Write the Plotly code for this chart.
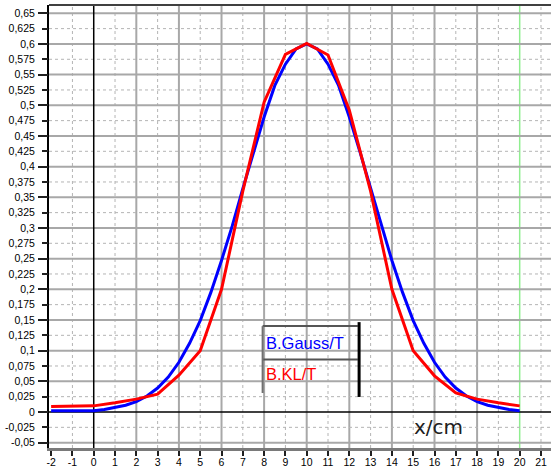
import plotly.graph_objects as go

# ---- data ----
gauss_x = [-2, -1, 0, 0.5, 1, 1.5, 2, 2.5, 3, 3.5, 4, 4.5, 5, 5.5, 6, 6.5, 7, 7.5, 8, 8.5, 9, 9.5, 10,
           10.5, 11, 11.5, 12, 12.5, 13, 13.5, 14, 14.5, 15, 15.5, 16, 16.5, 17, 17.5, 18, 18.5, 19, 19.5, 20]
gauss_y = [0.002, 0.002, 0.002, 0.004, 0.007, 0.011, 0.017, 0.026, 0.039, 0.057, 0.081, 0.112, 0.149,
           0.195, 0.247, 0.303, 0.364, 0.424, 0.481, 0.532, 0.567, 0.592, 0.600,
           0.592, 0.567, 0.532, 0.481, 0.424, 0.364, 0.303, 0.247, 0.195, 0.149, 0.112, 0.081, 0.057,
           0.039, 0.026, 0.017, 0.011, 0.007, 0.004, 0.002]

kl_x = [-2, -1, 0, 1, 2, 3, 4, 5, 6, 7, 8, 9, 10, 11, 12, 13, 14, 15, 16, 17, 18, 19, 20]
kl_y = [0.009, 0.009, 0.010, 0.015, 0.021, 0.029, 0.060, 0.100, 0.200, 0.360, 0.505, 0.583, 0.601,
        0.582, 0.492, 0.360, 0.200, 0.100, 0.059, 0.031, 0.021, 0.015, 0.010]

x_ticks = list(range(-2, 22))
y_ticks = [round(-0.05 + 0.025 * i, 3) for i in range(29)]
y_ticktext = [("%g" % v).replace(".", ",") for v in y_ticks]

legend_labels = ["B.Gauss/T", "B.KL/T"]
axis_title = "x/cm"

XR = [-2.1, 21.47]
YR = [-0.0587, 0.6635]

fig = go.Figure()
fig.add_trace(go.Scatter(x=gauss_x, y=gauss_y, mode="lines", line=dict(color="#0000FF", width=3),
                         name=legend_labels[0], hoverinfo="x+y"))
fig.add_trace(go.Scatter(x=kl_x, y=kl_y, mode="lines", line=dict(color="#FF0000", width=3),
                         name=legend_labels[1], hoverinfo="x+y"))

shapes = []
# vertical grid
for xv in x_ticks:
    if xv in (-2, 0):
        continue
    if xv == 20:
        shapes.append(dict(type="line", xref="x", yref="paper", x0=xv, x1=xv, y0=0, y1=1,
                           line=dict(color="#90EE90", width=1.5), layer="below"))
    elif xv % 2 == 0:
        shapes.append(dict(type="line", xref="x", yref="paper", x0=xv, x1=xv, y0=0, y1=1,
                           line=dict(color="#A8A8A8", width=2), layer="below"))
    else:
        shapes.append(dict(type="line", xref="x", yref="paper", x0=xv, x1=xv, y0=0, y1=1,
                           line=dict(color="#B4B4B4", width=1, dash="dot"), layer="below"))
# horizontal grid
for i, yv in enumerate(y_ticks):
    if abs(yv) < 1e-9:
        continue
    if i % 2 == 0:
        shapes.append(dict(type="line", xref="paper", yref="y", x0=0, x1=1, y0=yv, y1=yv,
                           line=dict(color="#A8A8A8", width=2), layer="below"))
    else:
        shapes.append(dict(type="line", xref="paper", yref="y", x0=0, x1=1, y0=yv, y1=yv,
                           line=dict(color="#B4B4B4", width=1, dash="dot"), layer="below"))
# zero lines
shapes.append(dict(type="line", xref="x", yref="paper", x0=0, x1=0, y0=0, y1=1,
                   line=dict(color="#000000", width=1.5), layer="below"))
shapes.append(dict(type="line", xref="paper", yref="y", x0=0, x1=1, y0=0, y1=0,
                   line=dict(color="#000000", width=1.5), layer="below"))
# top border
shapes.append(dict(type="line", xref="paper", yref="paper", x0=0, x1=1, y0=1, y1=1,
                   line=dict(color="#404040", width=2)))

# legend box
shapes += [
    dict(type="line", xref="x", yref="y", x0=7.93, x1=12.4, y0=0.140, y1=0.140,
         line=dict(color="#555555", width=2)),
    dict(type="line", xref="x", yref="y", x0=7.93, x1=12.4, y0=0.0855, y1=0.0855,
         line=dict(color="#555555", width=2)),
    dict(type="line", xref="x", yref="y", x0=7.93, x1=7.93, y0=0.140, y1=0.031,
         line=dict(color="#707070", width=2)),
    dict(type="line", xref="x", yref="y", x0=12.46, x1=12.46, y0=0.1465, y1=0.0245,
         line=dict(color="#000000", width=3)),
]

annotations = [
    dict(x=8.0, y=0.112, xref="x", yref="y", text=legend_labels[0], showarrow=False, xanchor="left",
         yanchor="middle", font=dict(family="Liberation Sans, Arial", size=16.5, color="#0000FF")),
    dict(x=8.0, y=0.0625, xref="x", yref="y", text=legend_labels[1], showarrow=False, xanchor="left",
         yanchor="middle", font=dict(family="Liberation Sans, Arial", size=16.5, color="#FF0000")),
    dict(x=16.2, y=-0.024, xref="x", yref="y", text=axis_title, showarrow=False, xanchor="center",
         yanchor="middle", font=dict(family="DejaVu Sans", size=20, color="#202020")),
]

fig.update_layout(
    width=553, height=470,
    margin=dict(l=49, r=2, t=5, b=22, autoexpand=False),
    paper_bgcolor="white", plot_bgcolor="white",
    showlegend=False,
    shapes=shapes, annotations=annotations,
    font=dict(family="Liberation Sans, Arial", size=11, color="#000000"),
    xaxis=dict(range=XR, tickvals=x_ticks, ticktext=[str(v) for v in x_ticks], automargin=False,
               showgrid=False, zeroline=False, showline=True, linecolor="#7A7A7A", linewidth=3,
               ticks="outside", ticklen=5, tickwidth=1.5, tickcolor="#202020",
               ticklabelstandoff=-3, tickfont=dict(size=10.5)),
    yaxis=dict(range=YR, tickvals=y_ticks, ticktext=y_ticktext, showgrid=False, zeroline=False,
               showline=True, linecolor="#000000", linewidth=2, automargin=False,
               ticks="outside", ticklen=10, tickcolor="rgba(0,0,0,0)", tickfont=dict(size=10.5)),
    yaxis2=dict(range=YR, overlaying="y", side="left", showgrid=False, zeroline=False,
                showticklabels=False, tick0=0, dtick=0.05, ticks="outside", ticklen=10,
                tickwidth=1.5, tickcolor="#202020", automargin=False,
                minor=dict(dtick=0.025, tick0=0, ticks="outside", ticklen=6, tickwidth=1.5,
                           tickcolor="#202020")),
)
# invisible trace to activate yaxis2
fig.add_trace(go.Scatter(x=[None], y=[None], yaxis="y2", showlegend=False, hoverinfo="skip"))

fig.write_html("out.html")
